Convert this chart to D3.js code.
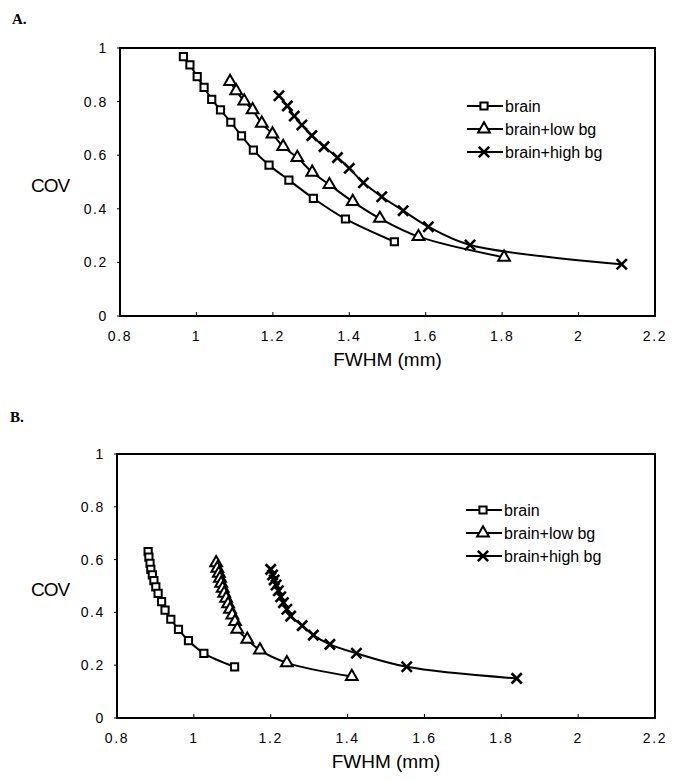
<!doctype html>
<html>
<head>
<meta charset="UTF-8">
<title>COV vs FWHM</title>
<script src="https://cdn.jsdelivr.net/npm/d3@7"></script>
<style>
  body { margin: 0; background: #fff; }
  svg { display: block; font-family: "Liberation Sans", Arial, sans-serif; }
  .tick-label { font-size: 14px; letter-spacing: 1.6px; fill: #000; }
  .axis-title { font-size: 19px; fill: #000; }
  .legend-text { font-size: 16px; fill: #000; }
  .panel-label { font-family: "Liberation Serif", "Times New Roman", serif; font-weight: bold; font-size: 15px; }
</style>
</head>
<body>
<svg id="chart" width="673" height="781"></svg>
<script>
// ---- data: [FWHM (mm), COV] ----
var seriesNames = ["brain", "brain+low bg", "brain+high bg"];
var xTicks = [0.8, 1, 1.2, 1.4, 1.6, 1.8, 2, 2.2];
var yTicks = [0, 0.2, 0.4, 0.6, 0.8, 1];

var aBrain = [[0.966,0.968],[0.983,0.937],[1.002,0.893],[1.020,0.853],[1.040,0.808],[1.063,0.769],[1.090,0.723],
  [1.118,0.672],[1.149,0.619],[1.190,0.563],[1.242,0.507],[1.306,0.439],[1.390,0.362],[1.518,0.277]];
var aLow = [[1.088,0.875],[1.104,0.840],[1.125,0.802],[1.147,0.769],[1.171,0.719],[1.199,0.679],[1.227,0.632],
  [1.264,0.591],[1.303,0.536],[1.348,0.490],[1.409,0.427],[1.480,0.364],[1.581,0.296],[1.805,0.219]];
var aHigh = [[1.216,0.822],[1.238,0.784],[1.256,0.746],[1.276,0.713],[1.302,0.673],[1.334,0.632],[1.369,0.591],
  [1.400,0.551],[1.437,0.497],[1.485,0.445],[1.541,0.393],[1.607,0.333],[1.716,0.265],[2.113,0.193]];

var bBrain = [[0.881,0.630],[0.883,0.609],[0.886,0.586],[0.888,0.563],[0.892,0.542],[0.896,0.520],[0.901,0.497],
  [0.907,0.472],[0.916,0.441],[0.925,0.409],[0.940,0.374],[0.960,0.336],[0.986,0.293],[1.026,0.245],[1.106,0.194]];
var bLow = [[1.058,0.588],[1.061,0.567],[1.065,0.548],[1.068,0.529],[1.071,0.510],[1.075,0.491],[1.079,0.472],
  [1.084,0.453],[1.089,0.432],[1.094,0.412],[1.100,0.390],[1.107,0.365],[1.113,0.336],[1.139,0.298],
  [1.172,0.257],[1.242,0.209],[1.411,0.157]];
var bHigh = [[1.200,0.563],[1.205,0.542],[1.209,0.523],[1.214,0.504],[1.220,0.482],[1.226,0.459],[1.233,0.437],
  [1.242,0.412],[1.252,0.386],[1.282,0.350],[1.311,0.314],[1.354,0.279],[1.423,0.245],[1.554,0.194],[1.840,0.150]];

var svg = d3.select("#chart");

var symbols = [d3.symbolSquare, d3.symbolTriangle, d3.symbolTimes];
var symbolSize = [52, 60, 70];

function drawMarker(g, i, x, y) {
  var p = g.append("path")
    .attr("d", d3.symbol().type(symbols[i]).size(symbolSize[i])())
    .attr("transform", "translate(" + x + "," + y + ")")
    .attr("stroke", "#000");
  if (i == 2) p.attr("fill", "none").attr("stroke-width", 2.6);
  else p.attr("fill", "#fff").attr("stroke-width", 2);
}

// one panel (A or B)
function panel(opt) {
  var x = d3.scaleLinear().domain([0.8, 2.2]).range([opt.left, opt.right]);
  var y = d3.scaleLinear().domain([0, 1]).range([opt.bottom, opt.top]);
  var g = svg.append("g");

  g.append("text").attr("class", "panel-label")
    .attr("x", opt.labelX).attr("y", opt.labelY).text(opt.label);

  // x ticks (inside) and labels
  g.selectAll(".xt").data(xTicks).enter().append("line")
    .attr("x1", d => x(d)).attr("x2", d => x(d))
    .attr("y1", opt.bottom).attr("y2", opt.bottom - 4)
    .attr("stroke", "#000").attr("stroke-width", 1);
  g.selectAll(".xl").data(xTicks).enter().append("text")
    .attr("class", "tick-label")
    .attr("x", d => x(d)).attr("y", opt.bottom + 25)
    .attr("text-anchor", "middle")
    .text(d => d);

  // y ticks and labels
  g.selectAll(".yt").data(yTicks).enter().append("line")
    .attr("x1", opt.left).attr("x2", opt.left - 3)
    .attr("y1", d => y(d)).attr("y2", d => y(d))
    .attr("stroke", "#000").attr("stroke-width", 1);
  g.selectAll(".yl").data(yTicks).enter().append("text")
    .attr("class", "tick-label")
    .attr("x", opt.left - 12).attr("y", d => y(d) + 5)
    .attr("text-anchor", "end")
    .text(d => d);

  // frame
  g.append("rect")
    .attr("x", opt.left).attr("y", opt.top)
    .attr("width", opt.right - opt.left).attr("height", opt.bottom - opt.top)
    .attr("fill", "none").attr("stroke", "#000").attr("stroke-width", 2);

  // axis titles
  g.append("text").attr("class", "axis-title")
    .attr("x", 50).attr("y", y(0.49) + 7)
    .attr("text-anchor", "middle").attr("letter-spacing", "-1px")
    .text("COV");
  g.append("text").attr("class", "axis-title")
    .attr("x", (opt.left + opt.right) / 2).attr("y", opt.bottom + 50)
    .attr("text-anchor", "middle")
    .text("FWHM (mm)");

  // series
  var line = d3.line().x(d => x(d[0])).y(d => y(d[1])).curve(d3.curveCatmullRom.alpha(0.5));
  opt.series.forEach(function(s, i) {
    g.append("path").datum(s)
      .attr("d", line)
      .attr("fill", "none").attr("stroke", "#000").attr("stroke-width", 2);
  });
  opt.series.forEach(function(s, i) {
    s.forEach(function(d) { drawMarker(g, i, x(d[0]), y(d[1])); });
  });

  // legend
  seriesNames.forEach(function(name, i) {
    var ly = opt.legendY + i * 23;
    g.append("line")
      .attr("x1", opt.legendX).attr("x2", opt.legendX + 36)
      .attr("y1", ly).attr("y2", ly)
      .attr("stroke", "#000").attr("stroke-width", 2);
    drawMarker(g, i, opt.legendX + 17, ly);
    g.append("text").attr("class", "legend-text")
      .attr("x", opt.legendX + 38).attr("y", ly + 6)
      .text(name);
  });
}

panel({ label: "A.", labelX: 12, labelY: 24,
        left: 120, right: 655, top: 48, bottom: 316,
        legendX: 467, legendY: 106,
        series: [aBrain, aLow, aHigh] });

panel({ label: "B.", labelX: 10, labelY: 422,
        left: 117, right: 655, top: 454, bottom: 718,
        legendX: 466, legendY: 510,
        series: [bBrain, bLow, bHigh] });
</script>
</body>
</html>
